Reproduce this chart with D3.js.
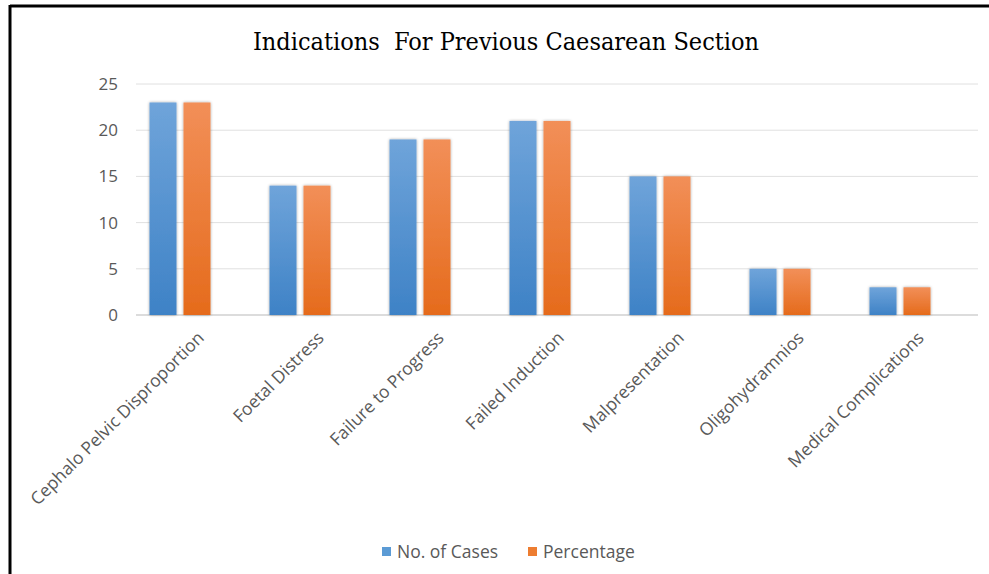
<!DOCTYPE html>
<html><head><meta charset="utf-8">
<script src="https://cdn.jsdelivr.net/npm/d3@7"></script>
<style>body{margin:0;background:#fff}</style>
</head><body>
<svg id="c" width="989" height="574"></svg>
<script>
const categories = ["Cephalo Pelvic Disproportion","Foetal Distress","Failure to Progress","Failed Induction","Malpresentation","Oligohydramnios","Medical Complications"];
const cases = [23,14,19,21,15,5,3];
const percentage = [23,14,19,21,15,5,3];
const seriesNames = ["No. of Cases","Percentage"];
const yTicks = [0,5,10,15,20,25];

const svg = d3.select("#c");
const defs = svg.append("defs");
function grad(id, top, bot){
  const g = defs.append("linearGradient").attr("id",id).attr("x1",0).attr("y1",0).attr("x2",0).attr("y2",1);
  g.append("stop").attr("offset","0%").attr("stop-color",top);
  g.append("stop").attr("offset","100%").attr("stop-color",bot);
}
grad("gb","#6fa4da","#3e82c6");
grad("go","#f28f58","#e56b1c");
const f = defs.append("filter").attr("id","sh").attr("x","-20%").attr("y","-10%").attr("width","140%").attr("height","120%");
f.append("feGaussianBlur").attr("in","SourceAlpha").attr("stdDeviation",1.5).attr("result","b");
f.append("feComponentTransfer").attr("in","b").attr("result","o2").append("feFuncA").attr("type","linear").attr("slope",0.35);
const m = f.append("feMerge"); m.append("feMergeNode").attr("in","o2"); m.append("feMergeNode").attr("in","SourceGraphic");

// border
svg.append("line").attr("x1",10).attr("x2",989).attr("y1",6).attr("y2",6).attr("stroke","#000").attr("stroke-width",3);
svg.append("line").attr("x1",10).attr("x2",10).attr("y1",5).attr("y2",574).attr("stroke","#000").attr("stroke-width",3);

// title
svg.append("text").attr("x",506).attr("y",50).attr("text-anchor","middle")
  .attr("font-family","'DejaVu Serif Condensed','Liberation Serif',serif").attr("font-size",25)
  .attr("fill","#000").style("white-space","pre").text("Indications  For Previous Caesarean Section");

const x = d3.scaleBand().domain(categories).range([120,960]);
const y = d3.scaleLinear().domain([0,25]).range([315,84]);

// gridlines
svg.append("g").selectAll("line").data(yTicks).join("line")
  .attr("x1",136).attr("x2",978).attr("y1",d=>y(d)).attr("y2",d=>y(d))
  .attr("stroke",d=>d===0?"#d0d0d0":"#e0e0e0").attr("stroke-width",d=>d===0?1.5:1);

// y axis labels
const yAxis = d3.axisLeft(y).tickValues(yTicks).tickSize(0).tickPadding(0);
const ga = svg.append("g").attr("transform","translate(118,0)").call(yAxis);
ga.select(".domain").remove();
ga.selectAll("text").attr("font-family","'Open Sans',sans-serif").attr("font-size",17).attr("fill","#595959");

const bw = 27, gap = 7;
const bars = svg.append("g").attr("filter","url(#sh)");
categories.forEach((c,i)=>{
  const cx = x(c)+x.bandwidth()/2;
  bars.append("rect").attr("x",cx-gap/2-bw).attr("y",y(cases[i])).attr("width",bw).attr("height",y(0)-y(cases[i])).attr("fill","url(#gb)");
  bars.append("rect").attr("x",cx+gap/2).attr("y",y(percentage[i])).attr("width",bw).attr("height",y(0)-y(percentage[i])).attr("fill","url(#go)");
});

// x labels
const xAxis = d3.axisBottom(x).tickSize(0).tickPadding(0);
const gx = svg.append("g").attr("transform","translate(0,315)").call(xAxis);
gx.select(".domain").remove();
gx.selectAll("text")
  .attr("font-family","'Open Sans',sans-serif").attr("font-size",17.5).attr("fill","#595959")
  .attr("text-anchor","end").attr("dy",0).attr("y",0)
  .attr("transform","translate(25,24) rotate(-45)");

// legend
const leg = svg.append("g");
const lx = [382,528];
const fills = ["#5b9bd5","#ed7d31"];
seriesNames.forEach((n,i)=>{
  leg.append("rect").attr("x",lx[i]).attr("y",547).attr("width",9).attr("height",9).attr("fill",fills[i]);
  leg.append("text").attr("x",lx[i]+15).attr("y",558).attr("font-family","'Open Sans',sans-serif").attr("font-size",17.5).attr("fill","#595959").text(n);
});
</script>
</body></html>
